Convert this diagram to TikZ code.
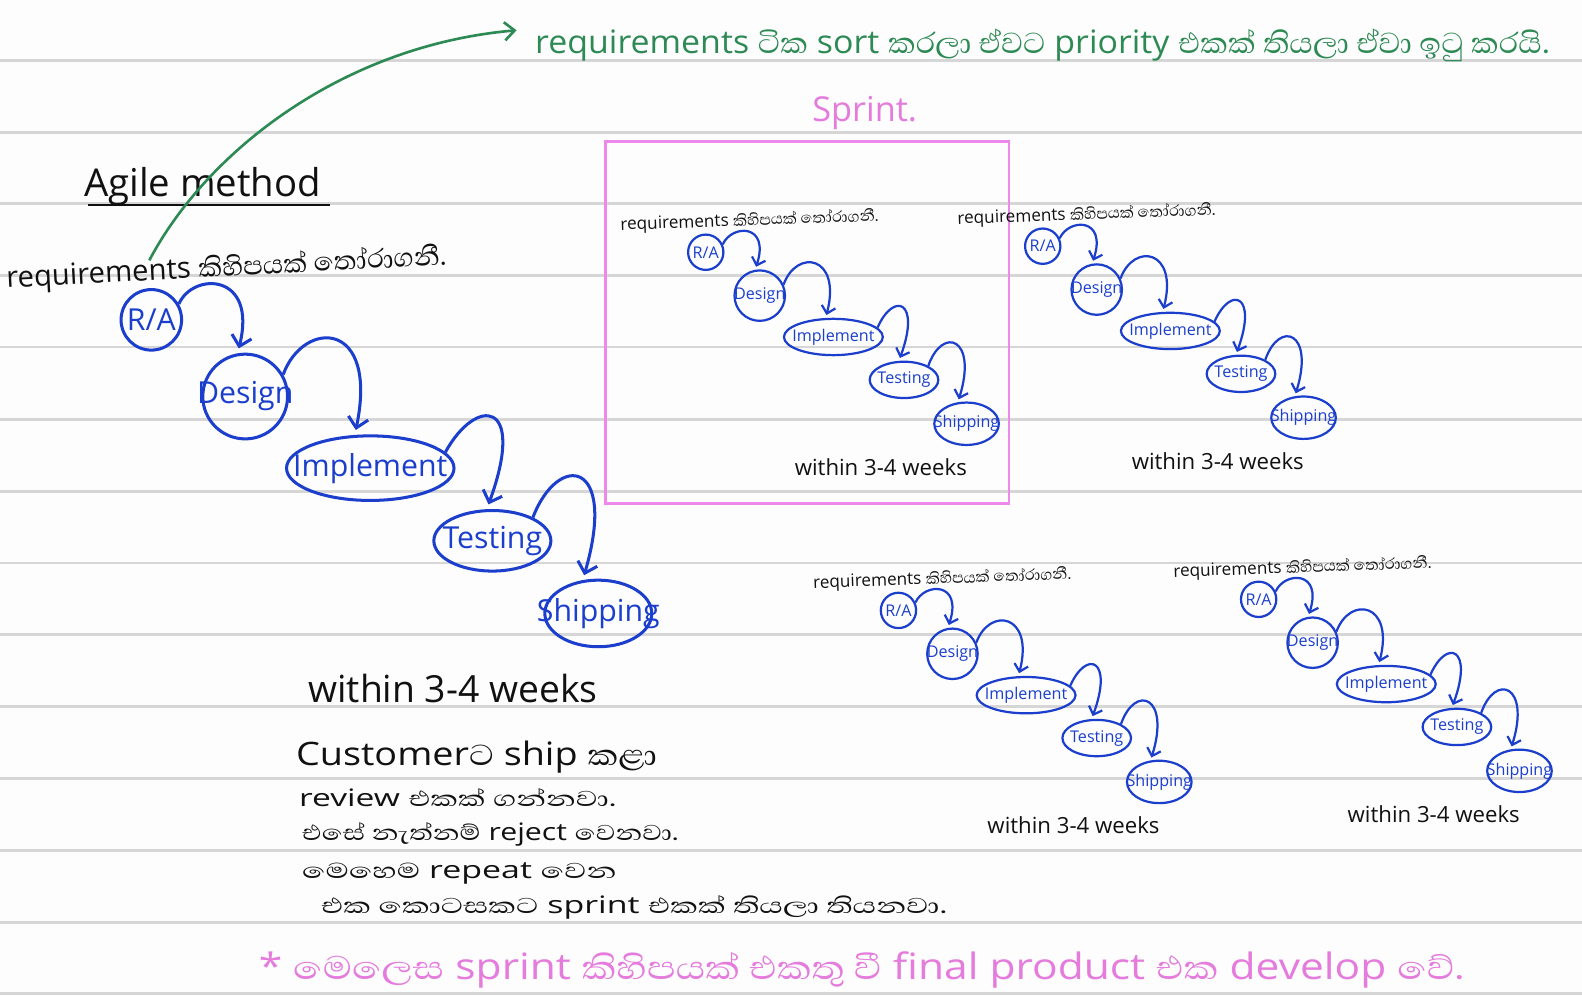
\documentclass[tikz,border=0pt]{standalone}
\usepackage{fontspec}
\setmainfont{Open Sans}
\newfontfamily\sinhalafnt[Script=Sinhala,Scale=1.15]{Abhaya Libre}
\newcommand\sn[1]{{\sinhalafnt #1}}
\usetikzlibrary{shapes.geometric,arrows.meta}
\definecolor{inkblue}{HTML}{1B3FCC}
\definecolor{inkgreen}{HTML}{2E8A55}
\definecolor{inkpink}{HTML}{E47BDD}
\definecolor{boxpink}{HTML}{EE88EA}
\definecolor{rulegray}{HTML}{D6D6D6}
\definecolor{paper}{HTML}{FDFDFD}
\definecolor{ink}{HTML}{111111}
\newcommand\fs[1]{\fontsize{#1}{#1}\selectfont}
\newcommand\sprintdiag{%
  \node[anchor=west,rotate=2,font=\fs{8.5}] (req) at (608,224) {requirements \sn{කිහිපයක් තෝරාගනී.}};
  \node[scirc,minimum size=17.5pt] (ra) at (699.5,250) {\makebox[0pt]{R/A}};
  \node[scirc,minimum size=25pt] (design) at (753,293) {\makebox[0pt]{Design}};
  \node[snode,minimum width=49pt,minimum height=18pt] (impl) at (826,334) {\makebox[0pt]{Implement}};
  \node[snode,minimum width=34pt,minimum height=18pt] (test) at (896,376.5) {\makebox[0pt]{Testing}};
  \node[snode,minimum width=32pt,minimum height=21pt] (ship) at (958,420) {\makebox[0pt]{Shipping}};
  \node[font=\fs{11}] (within) at (873,463) {within 3-4 weeks};
  \draw[sflow] (ra.25) .. controls +(9,-20) and +(15,-46) .. (design.100);
  \draw[sflow] (design.25) .. controls +(13,-36) and +(16,-62) .. (impl.112);
  \draw[sflow] (impl.12) .. controls +(16,-36) and +(22,-60) .. (test.105);
  \draw[sflow] (test.30) .. controls +(14,-40) and +(20,-64) .. (ship.112);
}
\begin{document}
\begin{tikzpicture}[x=0.5pt,y=-0.5pt,
  rule/.style={draw=rulegray,line width=1.4pt},
  bnode/.style={draw=inkblue,text=inkblue,line width=1.5pt,ellipse,inner sep=0pt,font=\fs{15}},
  bcirc/.style={bnode,circle},
  flow/.style={draw=inkblue,line width=1.5pt,shorten >=2.5pt,-{Straight Barb[length=5pt,width=10pt]}},
  snode/.style={draw=inkblue,text=inkblue,line width=1.1pt,ellipse,inner sep=0pt,font=\fs{8}},
  scirc/.style={snode,circle},
  sflow/.style={draw=inkblue,line width=1.1pt,shorten >=1.5pt,-{Straight Barb[length=3.5pt,width=7pt]}},
  txt/.style={text=ink,inner sep=0pt},
  every node/.append style={text=ink}]
\fill[paper] (0,0) rectangle (1568,987);
\useasboundingbox (0,0) rectangle (1568,987);
% ruled lines
\foreach \y in {60,131,202,273,344,416,487,558,629,700,772,843,914,985}
  \draw[rule] (0,\y) -- (1568,\y);

% title
\node[txt,anchor=base west,font=\fs{19}] (agile) at (83,195) {Agile method};
\draw[ink,line width=1.3pt] ([xshift=2pt,yshift=-4pt]agile.base west) -- ([xshift=4pt,yshift=-4pt]agile.base east);

% green note
\node[anchor=west,text=inkgreen,inner sep=0pt,font=\fs{16},xscale=1.05] (green) at (530,45)
  {requirements \sn{ටික} sort \sn{කරලා ඒවට} priority \sn{එකක් තියලා ඒවා ඉටු කරයි.}};
% sprint label and box
\node[text=inkpink,font=\fs{17}] (sprintlbl) at (857,112) {Sprint.};
\draw[boxpink,line width=1.3pt] (600,140) rectangle (1000,499);

% main requirement text
\node[txt,anchor=west,rotate=3,font=\fs{14.5}] (mreq) at (6,278) {requirements \sn{කිහිපයක් තෝරාගනී.}};
\coordinate (gstart) at (148,258);
\coordinate (gend) at (512,30);
\draw[inkgreen,line width=1.3pt,-{Straight Barb[length=5pt,width=9pt]}] (gstart) .. controls (205,150) and (340,45) .. (gend);

% main flow
\node[bcirc,minimum size=30pt] (ra) at (150,317) {\makebox[0pt]{R/A}};
\node[bcirc,minimum size=42pt] (design) at (243,393) {\makebox[0pt]{Design}};
\node[bnode,minimum width=83pt,minimum height=32pt] (impl) at (367,464) {\makebox[0pt]{Implement}};
\node[bnode,minimum width=58pt,minimum height=30pt] (test) at (488,536) {\makebox[0pt]{Testing}};
\node[bnode,minimum width=53pt,minimum height=33pt] (ship) at (593,608) {\makebox[0pt]{Shipping}};
\draw[flow] (ra.30) .. controls +(14,-32) and +(20,-80) .. (design.100);
\draw[flow] (design.30) .. controls +(20,-55) and +(24,-115) .. (impl.115);
\draw[flow] (impl.12) .. controls +(30,-55) and +(40,-110) .. (test.100);
\draw[flow] (test.30) .. controls +(25,-65) and +(35,-120) .. (ship.115);

\node[txt,font=\fs{18.5}] (mwithin) at (449,682) {within 3-4 weeks};

% notes
\node[txt,anchor=west,font=\fs{16},xscale=1.17] (n1) at (293,750) {Customer\sn{ට} ship \sn{කළා}};
\node[txt,anchor=west,font=\fs{14},xscale=1.19,yscale=0.85] (n2) at (296,791) {review \sn{එකක් ගන්නවා.}};
\node[txt,anchor=west,font=\fs{14},xscale=1.07,yscale=0.85] (n3) at (299,827) {\sn{එසේ නැත්නම්} reject \sn{වෙනවා.}};
\node[txt,anchor=west,font=\fs{14},xscale=1.2,yscale=0.85] (n4) at (299,866) {\sn{මෙහෙම} repeat \sn{වෙන}};
\node[txt,anchor=west,font=\fs{14},xscale=1.2,yscale=0.85] (n5) at (318,899) {\sn{එක කොටසකට} sprint \sn{එකක් තියලා තියනවා.}};

% pink summary
\node[anchor=west,text=inkpink,inner sep=0pt,font=\fs{18},xscale=1.17] (summary) at (256,961)
  {* \sn{මෙලෙස} sprint \sn{කිහිපයක් එකතු වී} final product \sn{එක} develop \sn{වේ.}};

% sprints
\begin{scope}[name prefix=s1-]
  \sprintdiag
\end{scope}
\begin{scope}[shift={(334,-6)},name prefix=s2-]
  \sprintdiag
\end{scope}
\begin{scope}[shift={(191,355)},name prefix=s3-]
  \sprintdiag
\end{scope}
\begin{scope}[shift={(548,344)},name prefix=s4-]
  \sprintdiag
\end{scope}
\end{tikzpicture}
\end{document}
